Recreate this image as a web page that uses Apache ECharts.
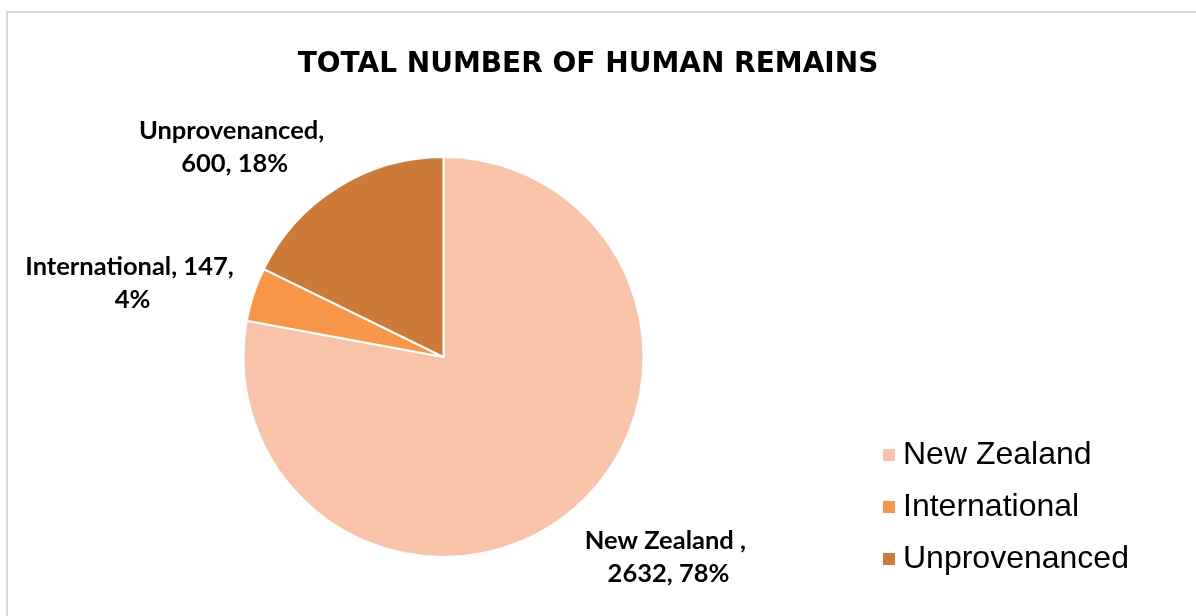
<!DOCTYPE html>
<html>
<head>
<meta charset="utf-8">
<script src="https://cdn.jsdelivr.net/npm/echarts@6/dist/echarts.min.js"></script>
<style>
  html, body { margin: 0; padding: 0; background: #fff; }
  #chart { width: 1196px; height: 616px; }
</style>
</head>
<body>
<div id="chart"></div>
<script>
var categories = ['New Zealand', 'International', 'Unprovenanced'];
var labelNames = ['New Zealand ', 'International', 'Unprovenanced'];
var values = [2632, 147, 600];
var colors = ['#F9C3A9', '#F79646', '#CC7A38'];

// small nudges so the labels sit where Excel put them (best fit)
var labelNudge = [[33, -30], [-26, 20], [-50, 45]];

var myChart = echarts.init(document.getElementById('chart'));

var pieData = [];
for (var i = 0; i < categories.length; i++) {
	pieData.push({ name: categories[i], value: values[i], itemStyle: { color: colors[i] } });
}

var option = {
	backgroundColor: '#fff',
	animation: false,
	title: {
		text: 'TOTAL NUMBER OF HUMAN REMAINS',
		left: 583,
		top: 46,
		textAlign: 'center',
		textStyle: {
			fontFamily: 'DejaVu Sans',
			fontWeight: 'bold',
			fontSize: 28,
			color: '#000'
		}
	},
	legend: {
		orient: 'vertical',
		left: 876,
		top: 434,
		itemWidth: 14,
		itemHeight: 14,
		itemGap: 20,
		icon: 'rect',
		data: categories,
		textStyle: {
			fontFamily: 'Liberation Sans',
			fontSize: 32,
			lineHeight: 32,
			color: '#000',
			padding: [0, 0, 0, 2]
		}
	},
	graphic: [{
		type: 'rect',
		shape: { x: 7, y: 12, width: 1300, height: 700 },
		style: { fill: 'none', stroke: '#d9d9d9', lineWidth: 2 },
		silent: true
	}],
	series: [{
		type: 'pie',
		center: [443.5, 357],
		radius: 200,
		startAngle: 90,
		clockwise: true,
		avoidLabelOverlap: false,
		percentPrecision: 0,
		itemStyle: { borderColor: '#fff', borderWidth: 2 },
		label: {
			show: true,
			position: 'outside',
			distanceToLabelLine: 0,
			width: 215,
			overflow: 'break',
			fontFamily: 'Lato',
			fontWeight: 'bold',
			fontSize: 25.5,
			lineHeight: 33,
			color: '#000',
			formatter: function (p) {
				return labelNames[p.dataIndex] + ', ' + p.value + ', ' + p.percent + '%';
			}
		},
		labelLine: { show: false, length: 100, length2: 0 },
		labelLayout: function (p) {
			var n = labelNudge[p.dataIndex];
			return { align: 'center', verticalAlign: 'middle', dx: n[0], dy: n[1] };
		},
		emphasis: { disabled: true },
		data: pieData
	}]
};

myChart.setOption(option);
</script>
</body>
</html>
